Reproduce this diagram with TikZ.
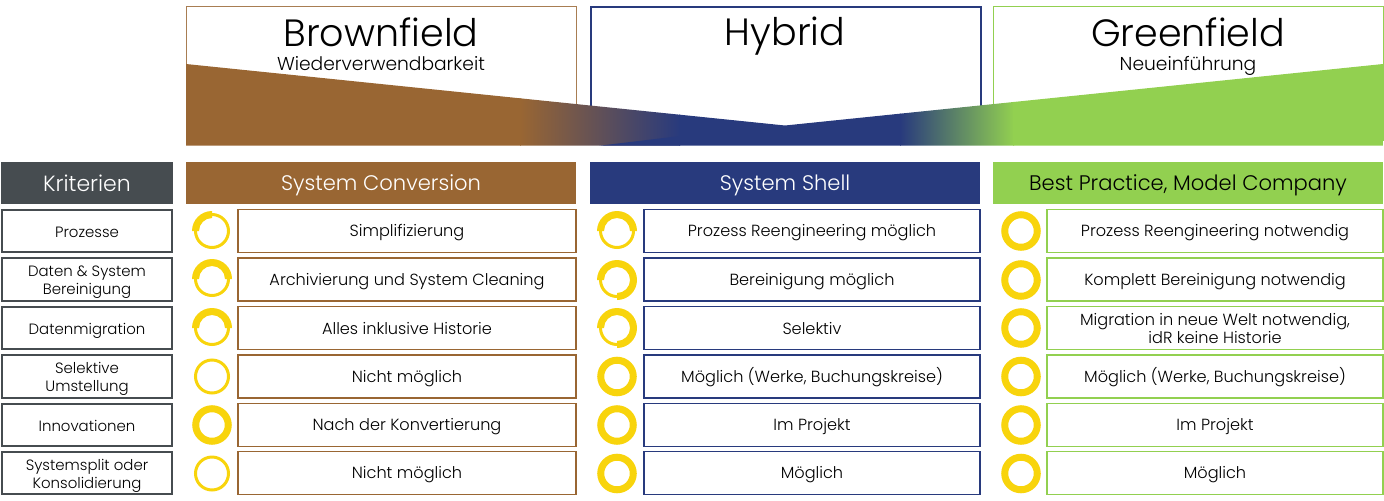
\documentclass[tikz,border=0pt]{standalone}
\usepackage{fontspec}
\setmainfont{Poppins}[UprightFont=* Light]
\definecolor{cbrown}{HTML}{996633}
\definecolor{cnavy}{HTML}{283A7D}
\definecolor{cgreen}{HTML}{92D050}
\definecolor{cdark}{HTML}{464C50}
\definecolor{cyel}{HTML}{F8D40C}
\lineskiplimit=-20pt
\newcommand{\txs}{\fontsize{11.2}{13.5}\selectfont}
\newcommand{\txc}{\fontsize{12.1}{13.5}\selectfont}
\newcommand{\txm}{\fontsize{15.8}{18}\selectfont}
\newcommand{\txk}{\fontsize{16.5}{18}\selectfont}
\newcommand{\txl}{\fontsize{28.5}{32}\selectfont}
\newcommand{\txw}{\fontsize{14}{16}\selectfont}
\newcommand{\cs}{\rule[-3pt]{0pt}{15pt}}
\newcommand{\gaugering}[3]{\node[ringthin] (#1) at (#2,#3) {};}
\newcommand{\gaugearc}[5]{%
  \node[ringthin] (#1) at (#2,#3) {};
  \fill[cyel] (#1.center) ++(#4:20) arc[start angle=#4,end angle=#5,radius=20]
    -- ++(#5:-7) arc[start angle=#5,end angle=#4,radius=13] -- cycle;}
\newcommand{\gaugefull}[3]{\node[ringfull] (#1) at (#2,#3) {};}
\tikzset{
  ringthin/.style={circle,draw=cyel,line width=2.25pt,minimum size=24.75pt,inner sep=0pt},
  ringfull/.style={circle,draw=cyel,line width=5.25pt,minimum size=24.4pt,inner sep=0pt},
  topbox/.style={draw=#1,rectangle,anchor=north west,minimum width=292.5pt,minimum height=100pt,inner sep=0pt},
  head/.style={fill=#1,draw=none,rectangle,anchor=north west,minimum width=292.5pt,minimum height=31.5pt,inner sep=0pt},
  cell/.style={draw=#1,line width=1.2pt,rectangle,align=center,inner sep=0pt,font=\txc},
  lab/.style={draw=cdark,line width=1.4pt,rectangle,align=center,inner sep=0pt,font=\txs,minimum width=127pt,minimum height=32pt},
  basetxt/.style={anchor=base,inner sep=0pt},
}
\newcommand{\cellrow}[6]{%
\node[cell=#1,minimum width=#2*0.75pt,minimum height=32.2pt] (#3) at (#4,#5) {#6};}
\begin{document}
\begin{tikzpicture}[x=0.75pt,y=-0.75pt]
\useasboundingbox (0,0) rectangle (1384,500);
% top boxes
\node[topbox=cbrown!85!white,line width=1pt] (tb) at (186,6) {};
\node[topbox=cnavy,line width=1.4pt] (th) at (590,6) {};
\node[topbox=cgreen,line width=1pt] (tg) at (993,6) {};
% band
\begin{scope}
\clip (186,64) -- (785,125.5) -- (1383,64) -- (1383,145.5) -- (186,145.5) -- cycle;
\fill[cbrown] (186,60) rectangle (521,146);
\shade[left color=cbrown,right color=cnavy] (520,60) rectangle (680,146);
\fill[cnavy] (679,60) rectangle (901,146);
\shade[left color=cnavy,right color=cgreen] (900,60) rectangle (1014,146);
\fill[cgreen] (1013,60) rectangle (1383,146);
\fill[cnavy] (597,146) -- (680,136) -- (680,146) -- cycle;
\end{scope}
% titles
\node[font=\txl,basetxt] (t1) at (381,46) {Brownfield};
\node[font=\txw,basetxt] (s1) at (381,70.5) {Wiederverwendbarkeit};
\node[font=\txl,basetxt] (t2) at (785,45.5) {Hybrid};
\node[font=\txl,basetxt] (t3) at (1188,46) {Greenfield};
\node[font=\txw,basetxt] (s3) at (1188,70.5) {Neueinführung};
% headers
\node[fill=cdark,rectangle,anchor=north west,minimum width=128.5pt,minimum height=31.5pt,inner sep=0pt] (hk) at (1,162) {};
\node[head=cbrown] (h1) at (186,162) {};
\node[head=cnavy] (h2) at (590,162) {};
\node[head=cgreen] (h3) at (993,162) {};
\node[basetxt,text=white,font=\txk] (hkt) at (87,191) {Kriterien};
\node[basetxt,text=white,font=\txm] (h1t) at (381,190) {System Conversion};
\node[basetxt,text=white,font=\txm] (h2t) at (785,190) {System Shell};
\node[basetxt,text=black,font=\txm] (h3t) at (1188,190) {Best Practice, Model Company};
% labels
\node[lab] (l1) at (87,231) {\cs Prozesse};
\node[lab] (l2) at (87,279.5) {\cs Daten \& System\\\cs Bereinigung};
\node[lab] (l3) at (87,328) {\cs Datenmigration};
\node[lab] (l4) at (87,376.5) {\cs Selektive\\\cs Umstellung};
\node[lab] (l5) at (87,425) {\cs Innovationen};
\node[lab] (l6) at (87,473) {\cs Systemsplit oder\\\cs Konsolidierung};
% column 1
\cellrow{cbrown}{338}{a1}{407}{231}{\cs Simplifizierung}
\cellrow{cbrown}{338}{a2}{407}{279.5}{\cs Archivierung und System Cleaning}
\cellrow{cbrown}{338}{a3}{407}{328}{\cs Alles inklusive Historie}
\cellrow{cbrown}{338}{a4}{407}{376.5}{\cs Nicht möglich}
\cellrow{cbrown}{338}{a5}{407}{425}{\cs Nach der Konvertierung}
\cellrow{cbrown}{338}{a6}{407}{473}{\cs Nicht möglich}
% column 2
\cellrow{cnavy}{336}{b1}{812}{231}{\cs Prozess Reengineering möglich}
\cellrow{cnavy}{336}{b2}{812}{279.5}{\cs Bereinigung möglich}
\cellrow{cnavy}{336}{b3}{812}{328}{\cs Selektiv}
\cellrow{cnavy}{336}{b4}{812}{376.5}{\cs Möglich (Werke, Buchungskreise)}
\cellrow{cnavy}{336}{b5}{812}{425}{\cs Im Projekt}
\cellrow{cnavy}{336}{b6}{812}{473}{\cs Möglich}
% column 3
\cellrow{cgreen}{336}{c1}{1215}{231}{\cs Prozess Reengineering notwendig}
\cellrow{cgreen}{336}{c2}{1215}{279.5}{\cs Komplett Bereinigung notwendig}
\cellrow{cgreen}{336}{c3}{1215}{328}{\cs Migration in neue Welt notwendig,\\\cs idR keine Historie}
\cellrow{cgreen}{336}{c4}{1215}{376.5}{\cs Möglich (Werke, Buchungskreise)}
\cellrow{cgreen}{336}{c5}{1215}{425}{\cs Im Projekt}
\cellrow{cgreen}{336}{c6}{1215}{473}{\cs Möglich}
% gauges column 1
\gaugearc{ga1}{212}{231}{180}{270}{}
\gaugearc{ga2}{212}{279}{180}{360}{}
\gaugearc{ga3}{212}{328}{180}{360}{}
\gaugering{ga4}{212}{376.5}
\gaugefull{ga5}{212}{425}
\gaugering{ga6}{212}{473.5}
% gauges column 2
\gaugearc{gb1}{617}{231}{180}{360}{}
\gaugearc{gb2}{617}{280}{180}{450}{}
\gaugearc{gb3}{617}{328}{180}{450}{}
\gaugefull{gb4}{617}{376.5}
\gaugefull{gb5}{617}{425}
\gaugefull{gb6}{617}{473.5}
% gauges column 3
\gaugefull{gc1}{1021}{231}
\gaugefull{gc2}{1021}{280}
\gaugefull{gc3}{1021}{328}
\gaugefull{gc4}{1021}{376.5}
\gaugefull{gc5}{1021}{425}
\gaugefull{gc6}{1021}{473.5}
\end{tikzpicture}
\end{document}
